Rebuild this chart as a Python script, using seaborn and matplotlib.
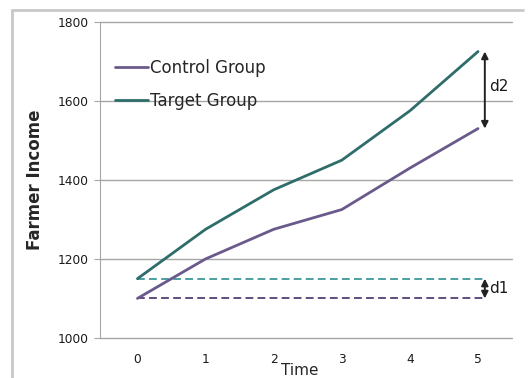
import numpy as np
import pandas as pd
import matplotlib
matplotlib.use("Agg")
import matplotlib.pyplot as plt
import seaborn as sns
from matplotlib.lines import Line2D

# values
time = [0, 1, 2, 3, 4, 5]
control = [1100, 1200, 1275, 1325, 1430, 1530]
target = [1150, 1275, 1375, 1450, 1575, 1725]
groups = ["Control Group", "Target Group"]
colors = {"Control Group": "#6a5a8c", "Target Group": "#2f6d6a"}
dash_colors = {"Control Group": "#5e4e7c", "Target Group": "#4aa0a2"}

df = pd.DataFrame({
    "Time": time * 2,
    "Income": control + target,
    "Group": [groups[0]] * len(time) + [groups[1]] * len(time),
})

sns.set_style("white")
plt.rcParams["font.family"] = ["DejaVu Sans"]

fig = plt.figure(figsize=(5.29, 3.78), dpi=100)
ax = fig.add_axes([0.189, 0.106, 0.779, 0.836])

sns.lineplot(data=df, x="Time", y="Income", hue="Group", palette=colors,
             linewidth=2.0, ax=ax)

arrow_x = time[-1] + 0.1

# baseline dashed lines (start values carried forward)
for g, vals in zip(groups, [control, target]):
    ax.hlines(vals[0], time[0], arrow_x, colors=dash_colors[g],
              linestyles=(0, (4, 2.2)), linewidth=1.4, zorder=1)

# difference arrows
for lo, hi in [(control[0], target[0]), (control[-1], target[-1])]:
    ax.annotate("", xy=(arrow_x, lo), xytext=(arrow_x, hi),
                arrowprops=dict(arrowstyle="<|-|>", color="#222222", lw=1.4,
                                mutation_scale=10, shrinkA=0, shrinkB=0))
ax.text(arrow_x + 0.06, (control[0] + target[0]) / 2, "d1", fontsize=11,
        va="center", ha="left", color="#1a1a1a", fontweight="medium")
ax.text(arrow_x + 0.06, control[-1] + 0.55 * (target[-1] - control[-1]), "d2",
        fontsize=11, va="center", ha="left", color="#1a1a1a",
        fontweight="medium")

ax.set_xlim(-0.55, 5.5)
ax.set_ylim(1000, 1800)
ax.set_yticks([1000, 1200, 1400, 1600, 1800])
ax.set_xticks(time)
ax.grid(axis="y", color="#a6a6a6", linewidth=1)
for gl in ax.get_ygridlines():
    gl.set_clip_on(False)
ax.set_axisbelow(True)
for s in ["top", "right", "bottom"]:
    ax.spines[s].set_visible(False)
ax.spines["left"].set_color("#a6a6a6")
ax.tick_params(axis="y", left=True, length=4, color="#a6a6a6",
               labelsize=8.8, pad=4, labelcolor="#1a1a1a")
ax.tick_params(axis="x", bottom=False, labelsize=8.8, pad=7,
               labelcolor="#1a1a1a")

ax.set_ylabel("Farmer Income", fontsize=12, fontweight="bold", labelpad=10)
ax.set_xlabel("Time", fontsize=11)
ax.xaxis.set_label_coords(0.485, -0.08)

ax.legend(loc="upper left", bbox_to_anchor=(0.0, 0.93), frameon=False,
          fontsize=12, handlelength=2.0, handletextpad=0.1,
          labelspacing=0.9, borderaxespad=0.5)

# light frame of the original picture
fig.add_artist(Line2D([12 / 529, 523 / 529], [1 - 10 / 378, 1 - 10 / 378],
                      color="#c8c8c8", lw=2))
fig.add_artist(Line2D([12 / 529, 12 / 529], [0, 1 - 10 / 378],
                      color="#c8c8c8", lw=2))

fig.savefig("out.png", dpi=100)
